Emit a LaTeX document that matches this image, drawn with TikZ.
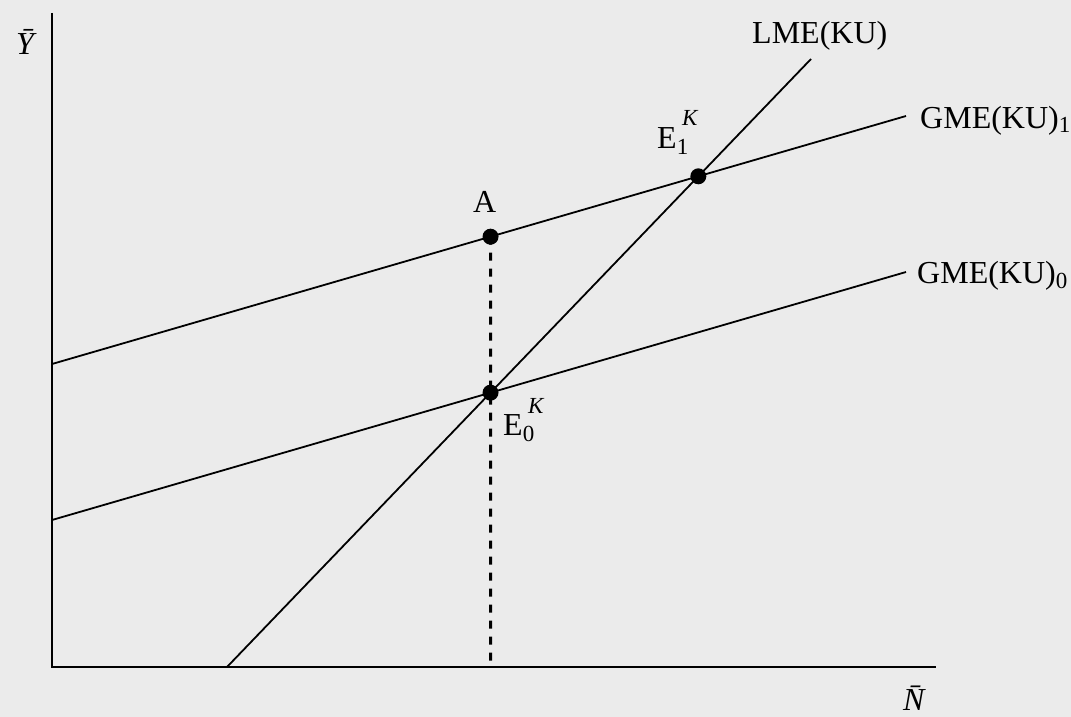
\documentclass[tikz,border=0pt]{standalone}
\usepackage{fontspec}
\setmainfont{Liberation Serif}
\usetikzlibrary{calc}
\definecolor{bg}{RGB}{235,235,235}
\newcommand{\subsz}{\fontsize{23}{23}\selectfont}
\begin{document}
\begin{tikzpicture}[x=1pt,y=-1pt,
  lbl/.style={anchor=base west,inner sep=0pt,font=\fontsize{32}{36}\selectfont},
  axisline/.style={line width=2.6pt},
  curve/.style={line width=1.8pt},
  guide/.style={line width=3pt,dash pattern=on 8pt off 8pt},
  dot/.style={circle,fill=black,inner sep=0pt,minimum size=16pt}]
\fill[bg] (0,0) rectangle (1071,717);
\useasboundingbox (0,0) rectangle (1071,717);
% axes
\coordinate (O) at (52,667);
\coordinate (Ytop) at (52,13);
\coordinate (Xend) at (936,667);
\draw[axisline] (Ytop) -- (O) -- (Xend);
% curves
\coordinate (g1s) at (52,364);
\coordinate (g1e) at (906,116);
\coordinate (g0s) at (52,520);
\coordinate (g0e) at (906,272);
\coordinate (ls) at (227,667);
\coordinate (le) at (811,59);
\draw[curve] (g1s) -- (g1e);
\draw[curve] (g0s) -- (g0e);
\draw[curve] (ls) -- (le);
% intersections
\coordinate (E0) at (intersection of g0s--g0e and ls--le);
\coordinate (E1) at (intersection of g1s--g1e and ls--le);
\coordinate (E0up) at ($(E0)+(0,-100)$);
\coordinate (A) at (intersection of g1s--g1e and E0--E0up);
\coordinate (Abase) at (E0 |- O);
\draw[guide] (A) -- (Abase);
\node[dot] (dotA) at (A) {};
\node[dot] (dotE0) at (E0) {};
\node[dot] (dotE1) at (E1) {};
% labels
\node[lbl] (ylbl) at (16,55) {\itshape\=Y};
\node[lbl] (nlbl) at (903,710) {\itshape\=N};
\node[lbl] (albl) at (473,212) {A};
\node[lbl] (lmelbl) at (752,44) {LME(KU)};
\node[lbl] (gme1lbl) at (920,128) {GME(KU)\raisebox{-5pt}{\subsz 1}};
\node[lbl] (gme0lbl) at (917,283) {GME(KU)\raisebox{-5pt}{\subsz 0}};
\node[lbl] (e1lbl) at (657,148) {E\raisebox{-6pt}{\subsz 1}};
\node[lbl,font=\subsz\itshape] (k1lbl) at (682,125) {K};
\node[lbl] (e0lbl) at (503,435) {E\raisebox{-6pt}{\subsz 0}};
\node[lbl,font=\subsz\itshape] (k0lbl) at (528,413) {K};
\end{tikzpicture}
\end{document}
